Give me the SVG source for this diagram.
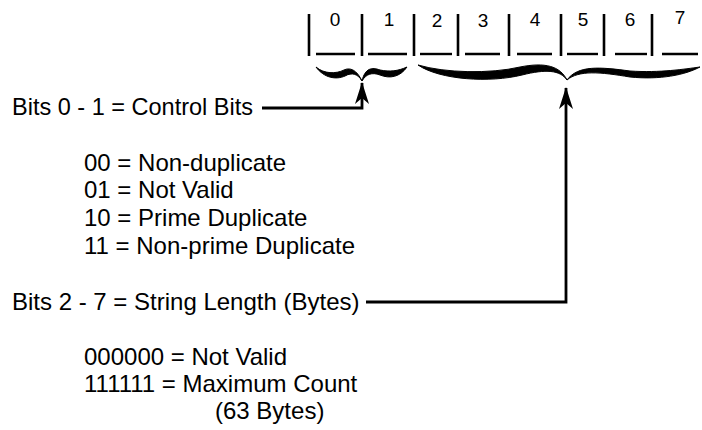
<svg xmlns="http://www.w3.org/2000/svg" width="702" height="430" viewBox="0 0 702 430">
  <style>
    .lbl { font-family: "Liberation Sans", Arial, sans-serif; font-size: 24px; fill: #000; }
    .bit { font-family: "Liberation Sans", Arial, sans-serif; font-size: 19px; fill: #000; text-anchor: middle; }
    .bar { stroke: #000; stroke-width: 2.6; fill: none; }
    .rule { stroke: #000; stroke-width: 2.4; fill: none; }
    .wire { stroke: #000; stroke-width: 2.8; fill: none; }
    .brace { fill: #000; stroke: #000; stroke-width: 1; stroke-linejoin: round; }
  </style>
  <defs>
    <!-- barbed arrowhead, drawn pointing along +x so orient="auto" turns it with the line -->
    <marker id="head" viewBox="0 0 22 14" refX="21" refY="7" markerWidth="22" markerHeight="14" markerUnits="userSpaceOnUse" orient="auto">
      <path d="M22,7 L0,0 L6,7 L0,14 Z" fill="#000"/>
    </marker>
  </defs>
  <rect width="702" height="430" fill="#fff"/>

  <!-- byte layout: bit cells 0..7 -->
  <g id="byte">
    <g id="bit-dividers">
      <line class="bar" x1="309" y1="14" x2="309" y2="56"/>
      <line class="bar" x1="362" y1="14" x2="362" y2="56"/>
      <line class="bar" x1="414" y1="14" x2="414" y2="56"/>
      <line class="bar" x1="458" y1="14" x2="458" y2="56"/>
      <line class="bar" x1="509" y1="14" x2="509" y2="56"/>
      <line class="bar" x1="561" y1="14" x2="561" y2="56"/>
      <line class="bar" x1="604" y1="14" x2="604" y2="56"/>
      <line class="bar" x1="652" y1="14" x2="652" y2="56"/>
    </g>
    <g id="bit-underlines">
      <line class="rule" x1="316" y1="54" x2="355" y2="54"/>
      <line class="rule" x1="368" y1="54" x2="407" y2="54"/>
      <line class="rule" x1="420" y1="54" x2="452" y2="54"/>
      <line class="rule" x1="465" y1="54" x2="500" y2="54"/>
      <line class="rule" x1="517" y1="54" x2="552" y2="54"/>
      <line class="rule" x1="567" y1="54" x2="598" y2="54"/>
      <line class="rule" x1="615" y1="54" x2="647" y2="54"/>
      <line class="rule" x1="662" y1="54" x2="698" y2="54"/>
    </g>
    <g id="bit-numbers">
      <text class="bit" x="335" y="26">0</text>
      <text class="bit" x="389" y="26">1</text>
      <text class="bit" x="437" y="27">2</text>
      <text class="bit" x="483" y="27">3</text>
      <text class="bit" x="535" y="26">4</text>
      <text class="bit" x="583" y="26">5</text>
      <text class="bit" x="630" y="26">6</text>
      <text class="bit" x="680" y="24">7</text>
    </g>
  </g>

  <!-- brace under bits 0-1 -->
  <g id="brace-control">
    <path class="brace" d="M316,67 C324,78 336,80 345,76 C352,72 358,74 362,81 C357,70 350,67 344,70 C336,74 324,74 316,67 Z"/>
    <path class="brace" d="M362,81 C366,74 372,72 380,75 C390,79 400,77 407,67 C398,71 390,72 380,70 C372,67 365,68 362,81 Z"/>
  </g>

  <!-- brace under bits 2-7 -->
  <g id="brace-length">
    <path class="brace" d="M418,65 C440,80 490,83 522,75 C546,69 560,70 567,80 C560,66 545,62 520,67 C490,74 445,73 418,65 Z"/>
    <path class="brace" d="M567,80 C579,70 600,72 630,77 C660,80 685,75 700,67 C685,69 660,73 630,71 C600,67 578,65 567,80 Z"/>
  </g>

  <g id="label-control">
    <text class="lbl" x="12" y="115" textLength="241" lengthAdjust="spacingAndGlyphs">Bits 0 - 1 = Control Bits</text>
  </g>
  <g id="values-control">
    <text class="lbl" x="84" y="171">00 = Non-duplicate</text>
    <text class="lbl" x="84" y="198">01 = Not Valid</text>
    <text class="lbl" x="84" y="226">10 = Prime Duplicate</text>
    <text class="lbl" x="84" y="254">11 = Non-prime Duplicate</text>
  </g>
  <g id="label-length">
    <text class="lbl" x="12" y="310">Bits 2 - 7 = String Length (Bytes)</text>
  </g>
  <g id="values-length">
    <text class="lbl" x="84" y="365">000000 = Not Valid</text>
    <text class="lbl" x="84" y="392">111111 = Maximum Count</text>
    <text class="lbl" x="215" y="419">(63 Bytes)</text>
  </g>

  <!-- connectors from labels up to the braces -->
  <g id="connectors">
    <polyline class="wire" points="262,108 362,108 362,83" marker-end="url(#head)"/>
    <polyline class="wire" points="366,302 566,302 566,88" marker-end="url(#head)"/>
  </g>
</svg>
